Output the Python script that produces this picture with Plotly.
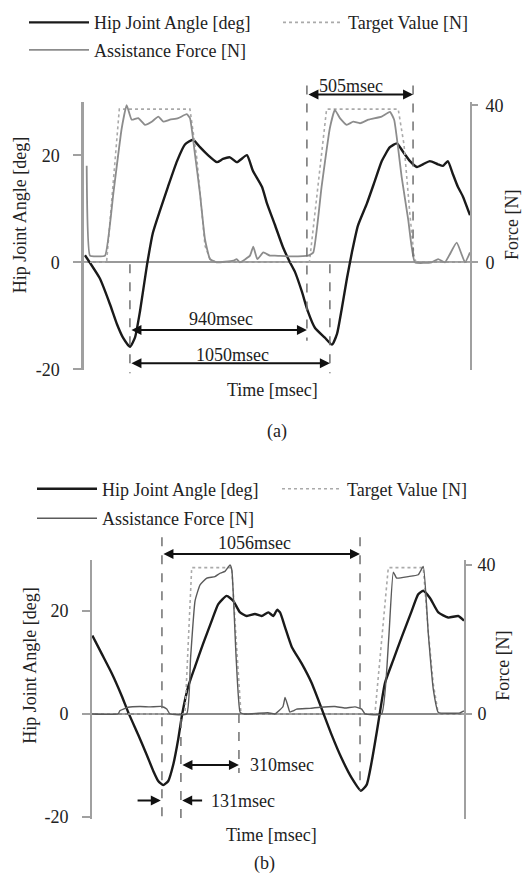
import plotly.graph_objects as go

# ---------------- Panel (a) data ----------------
t_angle_a = [5, 83, 135, 171, 202, 238, 264, 290, 326, 357, 394, 435, 482, 523, 565, 601, 637, 689, 720, 756,
             793, 844, 875, 922, 948, 989, 1031, 1067, 1093, 1129, 1160, 1197, 1248, 1285, 1311, 1336, 1362, 1388,
             1419, 1466, 1507, 1543, 1585, 1621, 1652, 1689, 1725, 1756, 1792, 1834, 1860, 1885, 1911, 1937, 1963, 2000]
angle_a = [1.3, -3.1, -7.9, -11.6, -14.1, -15.8, -14.1, -9.2, -0.6, 5.5, 9.7, 14.1, 18.9, 22.0, 22.9, 21.5, 20.2,
           18.7, 19.3, 19.6, 18.7, 20.0, 17.1, 14.1, 11.0, 7.0, 2.8, 0.0, -1.8, -5.5, -9.2, -12.3, -14.1, -15.4,
           -13.4, -8.6, -3.1, 1.8, 6.8, 11.0, 15.2, 18.9, 21.5, 22.2, 20.7, 18.9, 17.8, 18.3, 18.9, 18.3, 18.0,
           18.9, 16.5, 14.1, 12.3, 8.8]

t_force_a = [14, 31, 66, 109, 152, 195, 221, 247, 281, 316, 351, 385, 411, 445, 488, 532, 549, 575, 601, 627, 653,
             687, 773, 791, 808, 860, 877, 898, 929, 963, 989, 1076, 1162, 1188, 1231, 1274, 1300, 1326, 1361, 1395,
             1430, 1473, 1542, 1585, 1607, 1646, 1680, 1715, 1801, 1835, 1870, 1931, 1974, 2000]
force_a = [24.6, 1.7, 1.5, 1.7, 17.5, 34.0, 40.0, 36.3, 36.7, 35.0, 35.8, 37.1, 35.8, 36.3, 36.7, 37.7, 36.7, 27.5,
           17.5, 5.8, 0.8, 0.0, 0.4, 0.8, 0.0, 1.7, 4.0, 0.8, 2.5, 1.7, 1.7, 1.5, 1.7, 2.5, 19.2, 34.2, 38.8, 36.7,
           35.0, 35.8, 35.4, 36.3, 37.1, 38.3, 36.3, 21.7, 10.8, 0.0, 0.0, 0.8, 0.0, 5.0, 0.0, 2.5]

t_target_a = [0, 117, 183, 549, 584, 610, 627, 653, 687, 1168, 1257, 1628, 1658, 1689, 1709, 1720, 2000]
target_a = [0, 0, 39, 39, 26.7, 13.3, 4.2, 0.8, 0, 0, 39, 39, 30, 12, 2, 0, 0]

# ---------------- Panel (b) data ----------------
t_angle_b = [2, 52, 106, 160, 195, 249, 294, 330, 356, 383, 410, 437, 464, 485, 518, 554, 598, 644, 679, 724, 760,
             796, 832, 876, 912, 948, 975, 995, 1011, 1038, 1074, 1127, 1181, 1235, 1289, 1342, 1396, 1446, 1477,
             1504, 1531, 1548, 1575, 1620, 1665, 1719, 1754, 1781, 1817, 1862, 1915, 1969, 2000]
angle_b = [15.2, 11.7, 7.9, 3.5, 0.3, -4.1, -7.9, -11.1, -13.0, -13.8, -13.0, -9.8, -4.8, 0.0, 5.4, 9.2, 13.7,
           18.1, 21.3, 22.9, 21.9, 19.7, 19.0, 19.4, 19.0, 19.7, 19.0, 20.2, 19.7, 16.8, 13.0, 9.8, 6.0, 1.0,
           -4.1, -8.6, -12.4, -14.9, -13.7, -9.2, -3.5, 0.3, 6.0, 10.5, 14.9, 20.0, 23.2, 23.9, 22.5, 19.7, 18.7,
           19.0, 18.1]

t_force_b = [0, 140, 151, 195, 258, 312, 375, 402, 419, 509, 530, 554, 581, 617, 661, 688, 715, 742, 752, 775,
             796, 815, 946, 984, 1027, 1038, 1054, 1064, 1081, 1100, 1172, 1226, 1306, 1360, 1414, 1450, 1468,
             1557, 1595, 1620, 1638, 1700, 1754, 1781, 1808, 1835, 1862, 1914, 1978, 2000]
force_b = [0, 0, 0.9, 1.8, 2.0, 1.9, 2.0, 1.3, 0, 0, 15, 30.3, 34.6, 36.4, 36.8, 37.7, 38.2, 39.9, 38.5, 15,
           0.5, 0, 0.3, 0, 2, 4.4, 2, 0.5, 0.8, 1.3, 1.5, 1.8, 2.0, 1.6, 1.9, 1.3, 0, 0, 20, 38, 36.4, 36.8,
           37.3, 39.5, 21.5, 6.6, 0.4, 0.2, 0.3, 0.8]

t_target_b = [0, 500, 536, 751, 775, 801, 1521, 1593, 1781, 1808, 1835, 1862, 2000]
target_b = [0, 0, 39.2, 39.2, 20, 0, 0, 39.2, 39.2, 22, 8, 0, 0]

# tick labels
angle_ticks = [-20, 0, 20]
angle_ticktext = ["-20", "0", "20"]
force_ticks = [0, 40]
force_ticktext = ["0", "40"]

FONT = "Liberation Serif"
W, H = 526, 884


def py(px):  # pixel row -> paper y
    return 1 - px / H


def px_x(p):
    return p / W


fig = go.Figure()

# ---- panel (a) traces ----
fig.add_trace(go.Scatter(x=t_target_a, y=target_a, mode="lines", name="Target Value [N]",
                         line=dict(color="#aaaaaa", width=1.6, dash="dot"),
                         xaxis="x", yaxis="y2", legend="legend2"))
fig.add_trace(go.Scatter(x=t_force_a, y=force_a, mode="lines", name="Assistance Force [N]",
                         line=dict(color="#8c8c8c", width=1.8, shape="spline", smoothing=0.4),
                         xaxis="x", yaxis="y2", legend="legend3"))
fig.add_trace(go.Scatter(x=t_angle_a, y=angle_a, mode="lines", name="Hip Joint Angle [deg]",
                         line=dict(color="#1a1a1a", width=2.4, shape="spline", smoothing=0.5),
                         xaxis="x", yaxis="y", legend="legend"))

# ---- panel (b) traces ----
fig.add_trace(go.Scatter(x=t_target_b, y=target_b, mode="lines", name="Target Value [N]",
                         line=dict(color="#aaaaaa", width=1.6, dash="dot"),
                         xaxis="x2", yaxis="y4", legend="legend5"))
fig.add_trace(go.Scatter(x=t_force_b, y=force_b, mode="lines", name="Assistance Force [N]",
                         line=dict(color="#5a5a5a", width=1.4, shape="spline", smoothing=0.4),
                         xaxis="x2", yaxis="y4", legend="legend6"))
fig.add_trace(go.Scatter(x=t_angle_b, y=angle_b, mode="lines", name="Hip Joint Angle [deg]",
                         line=dict(color="#1a1a1a", width=2.4, shape="spline", smoothing=0.5),
                         xaxis="x2", yaxis="y3", legend="legend4"))

axfont = dict(family=FONT, size=18, color="#222")

# ---- axes ----
xa = dict(range=[0, 2000], showline=False, showticklabels=False, ticks="", showgrid=False, zeroline=False,
          fixedrange=True)
fig.update_layout(
    xaxis=dict(xa, domain=[px_x(84), px_x(470)], anchor="y"),
    xaxis2=dict(xa, domain=[px_x(92), px_x(464)], anchor="y3"),
    yaxis=dict(domain=[py(370), py(97)], range=[-20.2, 29.9], anchor="x",
               showline=True, linecolor="#a0a0a0", linewidth=2.5, ticks="outside", ticklen=8,
               tickcolor="#a0a0a0", tickwidth=2, tickvals=angle_ticks, ticktext=angle_ticktext,
               tickfont=axfont, ticklabelstandoff=10, showgrid=False, zeroline=True,
               zerolinecolor="#999999", zerolinewidth=2),
    yaxis2=dict(overlaying="y", side="right", anchor="x", range=[-27.5, 40.75],
                showline=True, linecolor="#a0a0a0", linewidth=1.6, ticks="outside", ticklen=6,
                tickcolor="#a0a0a0", tickwidth=1.6, tickvals=force_ticks, ticktext=force_ticktext,
                tickfont=axfont, ticklabelstandoff=4, showgrid=False, zeroline=False),
    yaxis3=dict(domain=[py(827), py(563)], range=[-20.38, 29.9], anchor="x2",
                showline=True, linecolor="#a0a0a0", linewidth=1.8, ticks="outside", ticklen=8,
                tickcolor="#a0a0a0", tickwidth=1.6, tickvals=angle_ticks, ticktext=angle_ticktext,
                tickfont=axfont, ticklabelstandoff=10, showgrid=False, zeroline=True,
                zerolinecolor="#8a8a8a", zerolinewidth=2),
    yaxis4=dict(overlaying="y3", side="right", anchor="x2", range=[-28.16, 41.3],
                showline=True, linecolor="#a0a0a0", linewidth=1.6, ticks="outside", ticklen=6,
                tickcolor="#a0a0a0", tickwidth=1.6, tickvals=force_ticks, ticktext=force_ticktext,
                tickfont=axfont, ticklabelstandoff=2, showgrid=False, zeroline=False),
)

# ---- legends ----
legfont = dict(family=FONT, size=18, color="#222")


def leg(xp, yp):
    return dict(x=px_x(xp), y=py(yp), xanchor="left", yanchor="middle", bgcolor="rgba(0,0,0,0)",
                borderwidth=0, font=legfont, itemwidth=60, orientation="v")


fig.update_layout(
    legend=leg(24, 16), legend2=leg(278, 16), legend3=leg(24, 44),
    legend4=leg(32, 491), legend5=leg(277, 491), legend6=leg(32, 521),
)

# ---- dashed marker lines ----
dash = dict(color="#707070", width=1.5, dash="dash")
vlines = [("x", 238, 262, 373), ("x", 1155, 80, 340), ("x", 1274, 262, 373), ("x", 1705, 80, 260),
          ("x2", 376, 540, 827), ("x2", 1441, 540, 798), ("x2", 478, 725, 827), ("x2", 790, 720, 780)]
for xr, tx, y0, y1 in vlines:
    fig.add_shape(type="line", xref=xr, yref="paper", x0=tx, x1=tx, y0=py(y0), y1=py(y1), line=dash)


# ---- arrows ----
def darrow(xr, yr, x0, x1, yv, both=True):
    fig.add_annotation(xref=xr, yref=yr, x=x1, y=yv, axref=xr, ayref="pixel", ax=x0, ay=0, text="",
                       showarrow=True, arrowhead=2, arrowsize=1, arrowwidth=2, arrowcolor="#111",
                       arrowside="end+start" if both else "end", standoff=0, startstandoff=0)


darrow("x", "paper", 1155, 1705, py(89))
darrow("x", "y", 238, 1155, -12.66)
darrow("x", "y", 238, 1274, -18.9)
darrow("x2", "paper", 376, 1441, py(557))
darrow("x2", "y3", 478, 790, -9.9)
darrow("x2", "y3", 237, 370, -16.8, both=False)
darrow("x2", "y3", 600, 485, -16.8, both=False)

tf = dict(family=FONT, size=18, color="#222")
labels = [("x", "paper", 1383, py(80), "505msec", "center"),
          ("x", "y", 710, -10.6, "940msec", "center"),
          ("x", "y", 767, -17.4, "1050msec", "center"),
          ("x2", "paper", 871, py(546), "1056msec", "center"),
          ("x2", "y3", 839, -9.9, "310msec", "left"),
          ("x2", "y3", 629, -16.8, "131msec", "left")]
for xr, yr, xv, yv, txt, anc in labels:
    fig.add_annotation(xref=xr, yref=yr, x=xv, y=yv, text=txt, showarrow=False, font=tf, xanchor=anc,
                       yanchor="middle")

# ---- titles ----
titles = [(20, 212, "Hip Joint Angle [deg]", -90), (512, 222, "Force [N]", -90),
          (272, 390, "Time [msec]", 0), (277, 432, "(a)", 0),
          (30, 671, "Hip Joint Angle [deg]", -90), (503, 671, "Force [N]", -90),
          (271, 843, "Time [msec]", 0), (264, 872, "(b)", 0)]
for xp, yp, txt, ang in titles:
    fig.add_annotation(xref="paper", yref="paper", x=px_x(xp), y=py(yp), text=txt, showarrow=False,
                       textangle=ang, font=tf, xanchor="center", yanchor="middle")

fig.update_layout(width=W, height=H, margin=dict(l=0, r=0, t=0, b=0), plot_bgcolor="white",
                  paper_bgcolor="white", showlegend=True)

fig.write_html("out.html")
